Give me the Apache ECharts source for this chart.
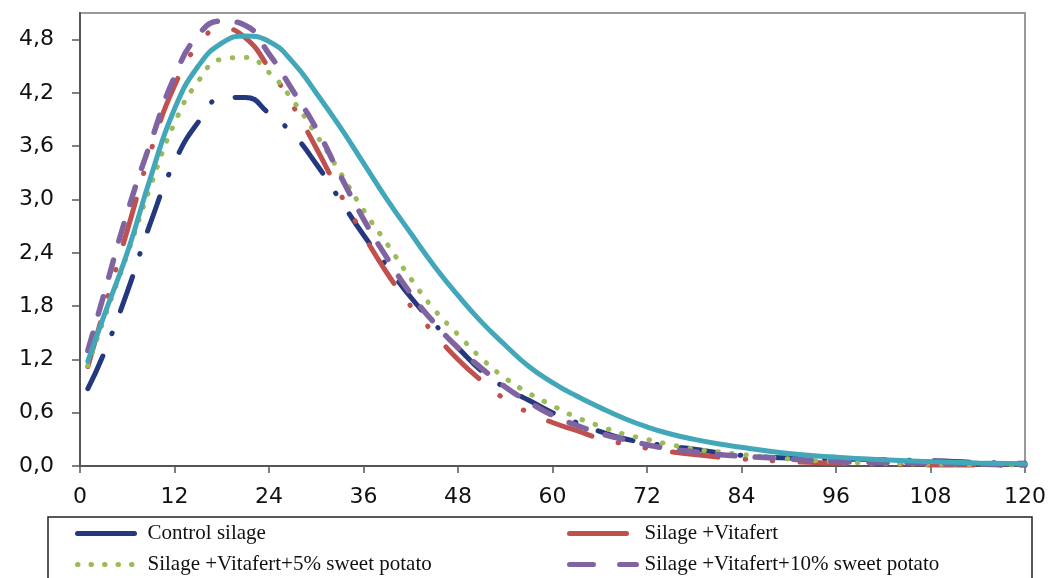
<!DOCTYPE html>
<html lang="en">

<head>
    <meta charset="utf-8">
    <title>Gas production rate curves</title>
    <style>
        * {
            margin: 0;
            padding: 0;
        }

        #chart-container {
            width: 1052px;
            height: 578px;
            background: #fff;
        }
    </style>
</head>

<body>
    <div id="chart-container"></div>
    <script src="https://cdn.jsdelivr.net/npm/echarts@6/dist/echarts.min.js"></script>
    <script>
        // hours (x) shared by all curves
        var hours = [1, 3, 6, 9, 12, 15, 18, 21, 24, 27, 30, 33, 36, 39, 42, 45, 48, 51, 54, 57, 60, 63, 66, 69, 72, 75, 78, 81, 84, 90, 96, 102, 108, 114, 120];

        var control = [0.87, 1.26, 1.96, 2.75, 3.42, 3.87, 4.14, 4.15, 3.97, 3.74, 3.40, 3.00, 2.60, 2.25, 1.90, 1.60, 1.33, 1.07, 0.88, 0.74, 0.60, 0.49, 0.39, 0.31, 0.26, 0.22, 0.19, 0.15, 0.12, 0.09, 0.08, 0.07, 0.06, 0.04, 0.03];
        var vitafert = [1.12, 1.74, 2.65, 3.55, 4.28, 4.74, 4.93, 4.82, 4.48, 4.06, 3.58, 3.07, 2.60, 2.17, 1.80, 1.49, 1.20, 0.96, 0.75, 0.60, 0.49, 0.40, 0.31, 0.25, 0.20, 0.16, 0.13, 0.10, 0.08, 0.05, 0.03, 0.02, 0.01, 0.01, 0.005];
        var potato5 = [1.13, 1.64, 2.38, 3.16, 3.86, 4.33, 4.58, 4.60, 4.43, 4.12, 3.73, 3.31, 2.88, 2.50, 2.11, 1.76, 1.48, 1.21, 0.99, 0.82, 0.68, 0.55, 0.45, 0.36, 0.30, 0.24, 0.19, 0.16, 0.13, 0.08, 0.05, 0.03, 0.02, 0.015, 0.01];
        var potato10 = [1.30, 1.92, 2.85, 3.65, 4.38, 4.85, 5.01, 4.96, 4.64, 4.23, 3.80, 3.28, 2.78, 2.34, 1.94, 1.61, 1.33, 1.10, 0.89, 0.72, 0.57, 0.46, 0.37, 0.30, 0.24, 0.19, 0.16, 0.13, 0.11, 0.08, 0.05, 0.04, 0.03, 0.02, 0.01];
        var potato15 = [1.18, 1.68, 2.40, 3.26, 4.02, 4.50, 4.76, 4.84, 4.78, 4.55, 4.20, 3.82, 3.41, 3.00, 2.62, 2.25, 1.92, 1.62, 1.36, 1.12, 0.94, 0.79, 0.66, 0.54, 0.44, 0.36, 0.30, 0.25, 0.21, 0.14, 0.10, 0.07, 0.05, 0.035, 0.025];

        var yTicks = [0, 0.6, 1.2, 1.8, 2.4, 3.0, 3.6, 4.2, 4.8];

        function pairs(vals) {
            return hours.map(function (h, i) { return [h, vals[i]]; });
        }

        var dom = document.getElementById('chart-container');
        var myChart = echarts.init(dom, null, { renderer: 'canvas' });

        var legendFont = {
            fontFamily: 'Liberation Serif',
            fontSize: 21,
            color: '#111'
        };

        function mkLegend(name, left, top, w, pad, lineStyle) {
            return {
                data: [{ name: name, lineStyle: lineStyle, itemStyle: { opacity: 0 } }],
                left: left,
                top: top,
                padding: 0,
                itemWidth: w,
                itemHeight: 12,
                selectedMode: false,
                textStyle: Object.assign({ padding: [0, 0, 0, pad] }, legendFont)
            };
        }

        function mkSeries(name, vals, color, width, dash, z) {
            return {
                name: name,
                type: 'line',
                data: pairs(vals),
                smooth: 0.5,
                symbol: 'none',
                z: z,
                lineStyle: {
                    color: color,
                    width: width,
                    type: dash,
                    cap: 'round'
                },
                itemStyle: { color: color }
            };
        }

        var option = {
            animation: false,
            grid: {
                left: 80,
                right: 27,
                top: 13,
                bottom: 112,
                show: true,
                borderColor: '#999',
                borderWidth: 2
            },
            legend: [
                mkLegend('Control silage', 75, 523, 57, 8, { type: 'solid', width: 5, cap: 'round' }),
                mkLegend('Silage +Vitafert+5% sweet potato', 75, 554, 62, 3, { type: [0.5, 13], width: 5, cap: 'round' }),
                mkLegend('Silage +Vitafert', 567, 523, 57, 13, { type: 'solid', width: 5, cap: 'round' }),
                mkLegend('Silage +Vitafert+10% sweet potato', 567, 554, 67, 3, { type: [24, 26], width: 5, cap: 'round' })
            ],
            graphic: [{
                type: 'rect',
                shape: { x: 48, y: 517, width: 984, height: 100 },
                style: { fill: 'none', stroke: '#222', lineWidth: 1.5 },
                silent: true
            }],
            xAxis: {
                type: 'value',
                min: 0,
                max: 120,
                interval: 12,
                axisLine: { lineStyle: { color: '#555', width: 2 } },
                axisTick: { show: true, length: 7, lineStyle: { color: '#555', width: 1.5 } },
                splitLine: { show: false },
                axisLabel: {
                    margin: 20,
                    fontFamily: 'DejaVu Sans',
                    fontSize: 22,
                    color: '#111'
                }
            },
            yAxis: {
                type: 'value',
                min: 0,
                max: 5.1,
                interval: 0.6,
                axisLine: { show: true, lineStyle: { color: '#555', width: 2 } },
                axisTick: { show: true, length: 8, customValues: yTicks, lineStyle: { color: '#555', width: 1.5 } },
                splitLine: { show: false },
                axisLabel: {
                    margin: 26,
                    customValues: yTicks,
                    fontFamily: 'DejaVu Sans',
                    fontSize: 22,
                    color: '#111',
                    formatter: function (v) {
                        return v.toFixed(1).replace('.', ',');
                    }
                }
            },
            series: [
                mkSeries('Control silage', control, '#24387E', 5, [36, 24, 0.5, 24], 2),
                mkSeries('Silage +Vitafert', vitafert, '#C0504D', 5, [46, 27, 0.5, 27, 0.5, 27], 3),
                mkSeries('Silage +Vitafert+5% sweet potato', potato5, '#9BBB59', 5, [0.5, 13.5], 4),
                mkSeries('Silage +Vitafert+10% sweet potato', potato10, '#8064A2', 5.5, [18, 20], 5),
                mkSeries('Silage +Vitafert+15% sweet potato', potato15, '#41A7B9', 5, 'solid', 6)
            ]
        };

        myChart.setOption(option);
        window.addEventListener('resize', myChart.resize);
    </script>
</body>

</html>
